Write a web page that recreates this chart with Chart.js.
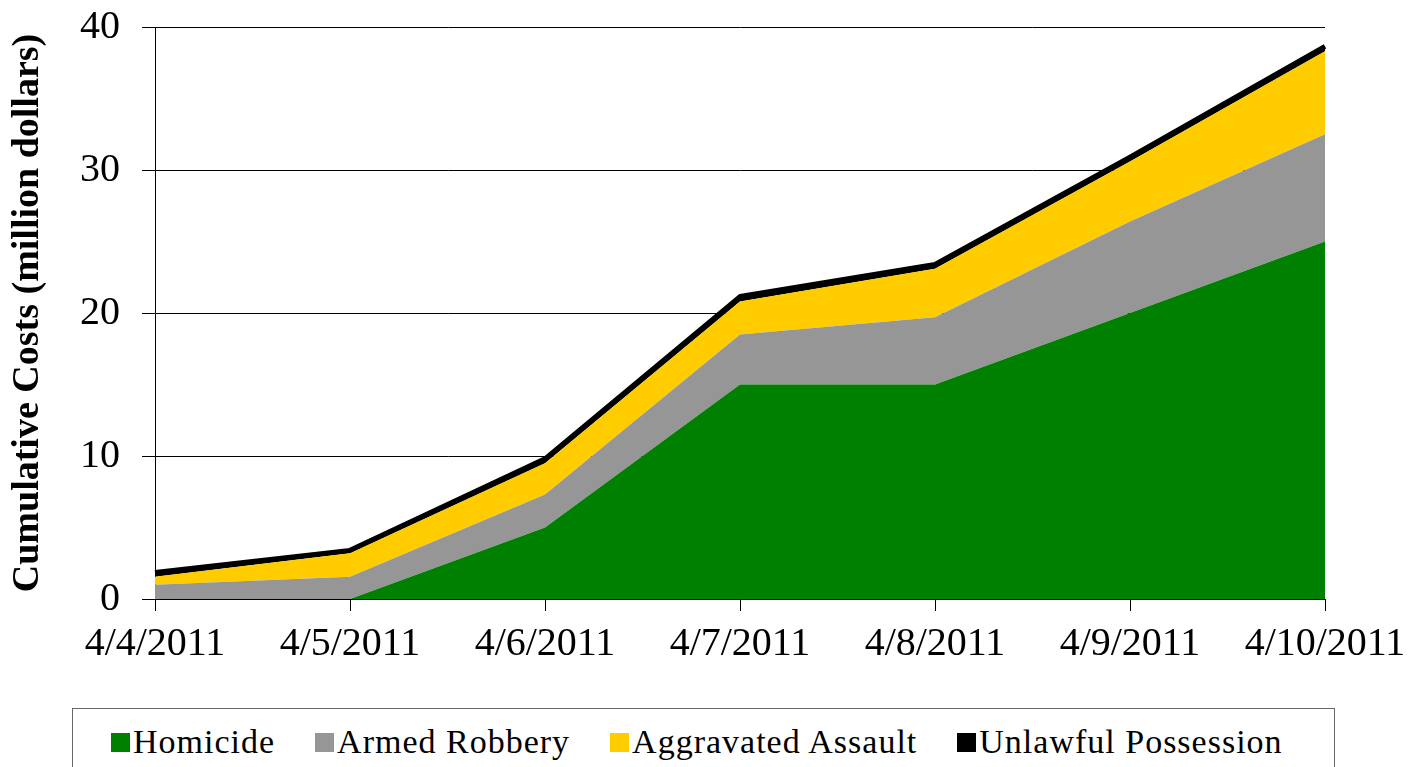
<!DOCTYPE html>
<html>
<head>
<meta charset="utf-8">
<script src="https://cdn.jsdelivr.net/npm/chart.js@4.4.1/dist/chart.umd.min.js"></script>
<style>
  html, body { margin: 0; padding: 0; background: #fff; }
  #wrap { position: relative; width: 1410px; height: 767px; overflow: hidden; }
  #chartBox { position: absolute; left: 0; top: 0; width: 1410px; height: 700px; }
  #legend {
    position: absolute; left: 72px; top: 708px; width: 1263px; height: 80px;
    border: 1.5px solid #666; box-sizing: border-box;
  }
  .costLegend { list-style: none; margin: 0; padding: 0; display: flex; align-items: center;
    height: 66px; padding-left: 38px; }
  .costLegend li { display: flex; align-items: center; margin-right: 40px; }
  .legendLabelBox { display: inline-block; width: 19px; height: 19px; margin-right: 3px; }
  .legendLabelText { font-family: "Liberation Serif", "DejaVu Serif", serif; font-size: 34px;
    letter-spacing: 1px; color: #000; }
</style>
</head>
<body>
<div id="wrap">
  <div id="chartBox"><canvas id="area-costs"></canvas></div>
  <div id="legend"></div>
</div>
<script>
// days along the x axis
const dates = ["4/4/2011", "4/5/2011", "4/6/2011", "4/7/2011", "4/8/2011", "4/9/2011", "4/10/2011"];

// cost added by each offence, million dollars (stacked bottom to top)
const homicide = [0, 0, 5.0, 15.0, 15.0, 20.0, 25.0];
const armedRobbery = [1.0, 1.55, 2.3, 3.5, 4.7, 6.4, 7.5];
const aggravatedAssault = [0.55, 1.65, 2.2, 2.3, 3.4, 4.2, 5.8];
const unlawfulPossession = [0.3, 0.2, 0.3, 0.35, 0.3, 0.3, 0.35];

const seriesNames = ["Homicide", "Armed Robbery", "Aggravated Assault", "Unlawful Possession"];
const seriesColors = ['#008000', '#969696', '#ffcc00', '#000000'];

const yTicks = [0, 10, 20, 30, 40];

const serif = '"Liberation Serif", "DejaVu Serif", serif';

const seriesData = [homicide, armedRobbery, aggravatedAssault, unlawfulPossession];
const datasets = seriesNames.map((name, i) => ({
  label: name,
  data: seriesData[i],
  backgroundColor: seriesColors[i],
  borderColor: seriesColors[i],
  borderWidth: i === 3 ? 5 : 0,
  borderJoinStyle: 'round',
  fill: i === 0 ? 'origin' : '-1',
  pointRadius: 0,
  tension: 0
}));

const ctx = document.getElementById('area-costs').getContext('2d');
const costChart = new Chart(ctx, {
  type: 'line',
  data: { labels: dates, datasets: datasets },
  options: {
    responsive: true,
    maintainAspectRatio: false,
    animation: false,
    layout: { padding: { left: 0, right: 85, top: 27, bottom: 0 } },
    plugins: {
      legend: { display: false },
      tooltip: { enabled: false }
    },
    scales: {
      x: {
        offset: false,
        grid: { display: true, drawOnChartArea: false, drawTicks: true, tickLength: 12, color: '#000', lineWidth: 1 },
        border: { display: true, color: '#000', width: 1 },
        ticks: { color: '#000', font: { family: serif, size: 40 }, padding: 9, maxRotation: 0, autoSkip: false },
        afterFit: (scale) => {
          scale.height = 101;
          // labels may overhang the plot edges, keep the plot width fixed
          scale.paddingLeft = 0;
          scale.paddingRight = 0;
        }
      },
      y: {
        stacked: true,
        min: 0,
        max: 40,
        afterBuildTicks: (scale) => { scale.ticks = yTicks.map(v => ({ value: v })); },
        grid: { color: '#000', lineWidth: 1, drawTicks: true, tickLength: 13 },
        border: { display: true, color: '#000', width: 1 },
        ticks: { color: '#000', font: { family: serif, size: 40 }, padding: 22 },
        title: {
          display: true,
          text: 'Cumulative Costs (million dollars)',
          color: '#000',
          font: { family: serif, size: 38, weight: 'bold' },
          padding: { top: 5, bottom: 0 }
        },
        afterFit: (scale) => {
          scale.width = 155;
          scale.paddingTop = 0;
          scale.paddingBottom = 0;
        }
      }
    }
  }
});

/* build the legend below the chart from the datasets */
const text = [];
text.push('<ul class="costLegend">');
for (let i = 0; i < costChart.data.datasets.length; i++) {
  const ds = costChart.data.datasets[i];
  text.push('<li>');
  text.push('<span style="background-color:' + ds.backgroundColor + ';" class="legendLabelBox"></span><span class="legendLabelText">' + ds.label + '</span>');
  text.push('</li>');
}
text.push('</ul>');
document.getElementById('legend').innerHTML = text.join('');
</script>
</body>
</html>
